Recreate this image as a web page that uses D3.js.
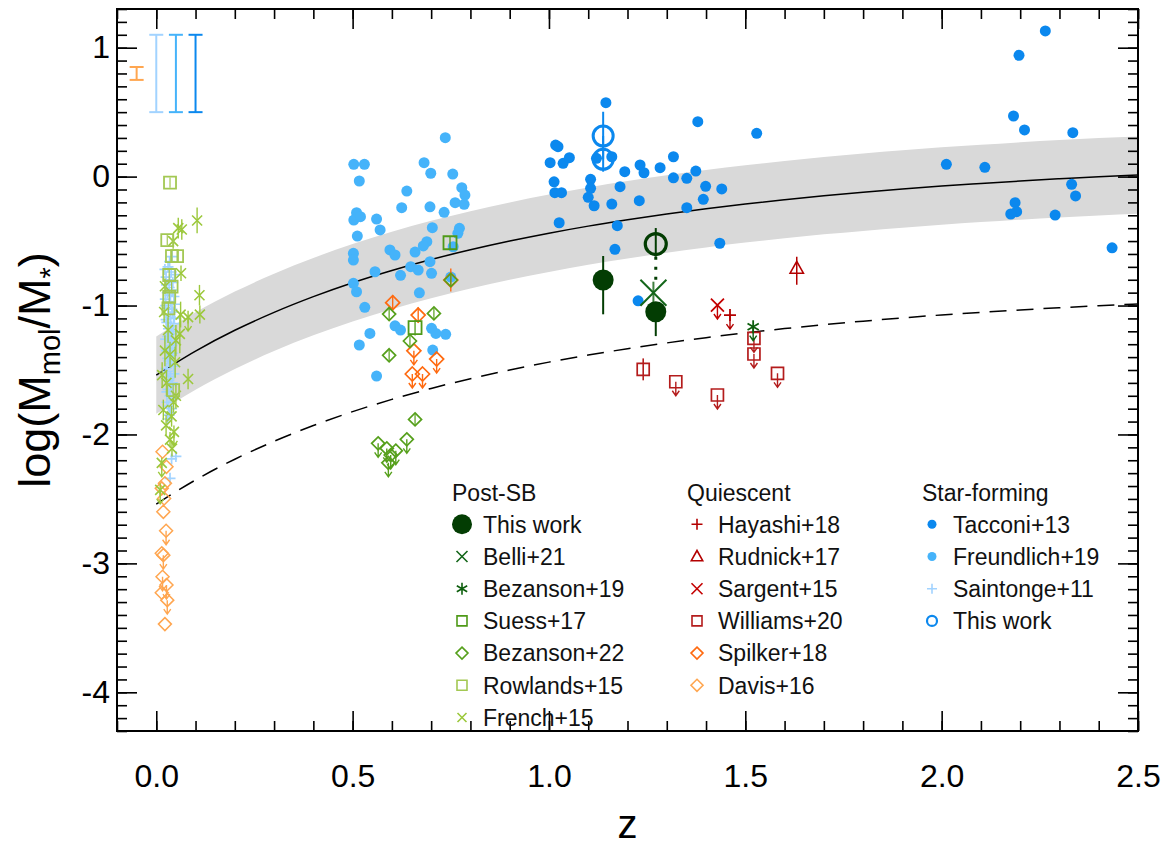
<!DOCTYPE html>
<html>
<head>
<meta charset="utf-8">
<script src="https://cdn.jsdelivr.net/npm/d3@7"></script>
<style>
  body { margin: 0; background: #fff; }
  svg { display: block; }
  text { font-family: "Liberation Sans", Arial, Helvetica, sans-serif; }
</style>
</head>
<body>
<svg id="chart" width="1175" height="849"></svg>
<script>
// ---- scaling relation (main-sequence gas fraction) sampled along z ----
const trendZ   = [0,0.1,0.2,0.3,0.4,0.5,0.6,0.7,0.8,0.9,1.0,1.1,1.2,1.3,1.4,1.5,1.6,1.7,1.8,1.9,2.0,2.1,2.2,2.3,2.4,2.5];
const trendLog = [-1.540,-1.353,-1.192,-1.053,-0.931,-0.823,-0.728,-0.643,-0.568,-0.500,-0.439,-0.384,-0.335,-0.290,-0.249,-0.212,-0.179,-0.148,-0.121,-0.096,-0.073,-0.053,-0.034,-0.017,-0.001,0.012];
const bandHalfWidth = 0.3;      // dex scatter of the relation
const limitLog = [-2.540,-2.353,-2.192,-2.053,-1.931,-1.823,-1.728,-1.643,-1.568,-1.500,-1.439,-1.384,-1.335,-1.290,-1.249,-1.212,-1.179,-1.148,-1.121,-1.096,-1.073,-1.053,-1.034,-1.017,-1.001,-0.988];

// ---- star-forming samples: [z, log(Mmol/M*)] ----
const tacconi13 = [
  [1.145,0.573],[1.017,0.245],[1.023,0.232],[1.003,0.108],[1.036,0.103],[1.052,0.147],[1.013,-0.040],
  [1.015,-0.125],[1.032,-0.125],[1.106,-0.021],[1.106,-0.091],[1.100,-0.161],[1.115,-0.226],[1.160,-0.213],
  [1.181,-0.078],[1.193,0.038],[1.232,0.090],[1.242,0.030],[1.283,0.069],[1.317,0.154],[1.317,-0.009],
  [1.351,-0.013],[1.374,0.043],[1.379,0.426],[1.399,-0.075],[1.393,-0.176],[1.440,-0.096],[1.351,-0.241],
  [1.230,-0.187],[1.026,-0.358],[1.174,-0.381],[1.168,-0.564],[1.435,-0.517],[1.529,0.336],[1.160,0.154],
  [1.121,0.142],[1.227,-0.963],
  [2.264,1.130],[2.197,0.941],[2.183,0.470],[2.211,0.362],[2.334,0.341],[2.012,0.095],[2.110,0.072],
  [2.331,-0.060],[2.341,-0.150],[2.187,-0.202],[2.191,-0.272],[2.176,-0.290],[2.289,-0.298],[2.434,-0.552]
];
const freundlich19 = [
  [0.736,0.302],[0.503,0.095],[0.530,0.095],[0.517,-0.034],[0.682,0.108],[0.699,0.026],[0.755,0.020],
  [0.778,-0.086],[0.786,-0.143],[0.761,-0.202],[0.784,-0.215],[0.638,-0.112],[0.625,-0.241],[0.697,-0.234],
  [0.733,-0.277],[0.510,-0.280],[0.503,-0.337],[0.520,-0.311],[0.561,-0.329],[0.570,-0.414],[0.512,-0.461],
  [0.703,-0.396],[0.772,-0.401],[0.768,-0.440],[0.689,-0.505],[0.680,-0.538],[0.595,-0.569],[0.608,-0.608],
  [0.659,-0.585],[0.502,-0.595],[0.502,-0.647],[0.648,-0.699],[0.667,-0.725],[0.697,-0.660],[0.701,-0.750],
  [0.557,-0.738],[0.622,-0.766],[0.756,-0.544],[0.502,-0.828],[0.510,-0.893],[0.670,-0.901],[0.531,-1.014],
  [0.608,-1.157],[0.622,-1.190],[0.544,-1.216],[0.517,-1.306],[0.701,-1.177],[0.712,-1.216],[0.737,-1.223],
  [0.704,-1.345],[0.561,-1.547],[0.750,-0.779]
];
const saintonge11 = [
  [0.030,-0.70],[0.038,-0.74],[0.025,-0.78],[0.042,-0.82],[0.033,-0.86],[0.028,-0.90],[0.045,-0.93],
  [0.036,-0.97],[0.024,-1.00],[0.040,-1.03],[0.031,-1.07],[0.046,-1.10],[0.027,-1.13],[0.037,-1.16],
  [0.043,-1.20],[0.029,-1.24],[0.034,-1.27],[0.040,-1.31],[0.026,-1.35],[0.038,-1.39],[0.032,-1.43],
  [0.044,-1.47],[0.028,-1.51],[0.036,-1.55],[0.041,-1.60],[0.030,-1.65],[0.035,-1.70],[0.027,-1.75],
  [0.039,-1.80],[0.033,-1.85],[0.039,-2.19],[0.035,-2.34],[0.050,-2.17],
  [0.022,-0.72],[0.047,-0.76],[0.034,-0.80],[0.026,-0.84],[0.041,-0.88],[0.035,-0.92],[0.023,-0.95],
  [0.048,-0.99],[0.030,-1.02],[0.042,-1.05],[0.036,-1.09],[0.025,-1.11],[0.044,-1.14],[0.031,-1.18],
  [0.039,-1.22],[0.024,-1.26],[0.047,-1.29],[0.033,-1.33],[0.042,-1.37],[0.029,-1.41],[0.037,-1.45],
  [0.025,-1.49],[0.045,-1.53],[0.032,-1.58],[0.038,-1.62],[0.027,-1.67],[0.043,-1.72],[0.031,-1.78],
  [0.036,-1.83],[0.029,-1.88],[0.034,-0.66],[0.040,-0.62]
];
// this work, star-forming: [z, value, lower, upper]
const thisWorkSF = [[1.138,0.315,0.134,0.503],[1.138,0.134,0.038,0.315]];

// ---- post-starburst samples ----
// this work: [z, value, lower, upper]
const thisWorkPSB = [[1.138,-0.802,-1.068,-0.616],[1.272,-1.048,-1.237,-0.978]];
const thisWorkPSBalt = [[1.272,-0.523,-0.621,-0.399]];
const belli21 = [[1.266,-0.901,-1.009,-0.815]];
const bezanson19 = [[1.520,-1.164]];                 // upper limit
const suess17 = [[0.659,-1.172,0.06],[0.748,-0.513,0.05]];   // [z, value, err]
// [z, value, err, upperLimit]
const bezanson22 = [
  [0.750,-0.802,0.05,0],[0.593,-1.066,0.05,0],[0.707,-1.061,0.05,0],[0.646,-1.275,0.05,0],
  [0.593,-1.386,0.05,0],[0.659,-1.883,0.05,0],[0.638,-2.038,0,1],[0.565,-2.069,0,1],
  [0.587,-2.108,0,1],[0.610,-2.126,0,1],[0.597,-2.160,0,1],[0.591,-2.220,0,1]
];
const rowlands15 = [
  [0.035,-0.047,0.04],[0.028,-0.492,0.04],[0.040,-0.616,0.05],[0.053,-0.616,0.05],[0.033,-0.763,0.04],
  [0.039,-0.854,0.05],[0.033,-0.932,0.04],[0.031,-1.022,0.05],[0.043,-1.656,0.05]
];
const french15 = [
  [0.104,-0.34,0.10,0],[0.056,-0.40,0.08,0],[0.065,-0.41,0.08,0],[0.043,-0.50,0.06,0],[0.063,-0.75,0.06,0],
  [0.110,-0.92,0.08,0],[0.111,-1.07,0.07,0],[0.081,-1.09,0.05,1],[0.062,-1.07,0.10,0],[0.060,-1.22,0.15,0],
  [0.022,-1.35,0.12,0],[0.035,-1.38,0.10,0],[0.048,-1.44,0.12,0],[0.081,-1.57,0.08,0],[0.022,-0.85,0.06,0],
  [0.026,-1.60,0.10,0],[0.018,-1.81,0.08,0],[0.039,-1.86,0.08,0],[0.035,-2.04,0.06,0],[0.014,-2.22,0.04,1],
  [0.030,-1.19,0.10,0],[0.050,-1.27,0.12,0],[0.015,-1.54,0.10,0],[0.050,-1.70,0.10,0],[0.025,-1.93,0.08,0],
  [0.045,-1.98,0.05,1],[0.010,-2.43,0.05,1],[0.040,-2.11,0.06,0],[0.020,-1.05,0.08,0],[0.044,-1.75,0.08,0]
];

// ---- quiescent samples ----
const hayashi18 = [[1.461,-1.074]];                 // upper limit
const rudnick17 = [[1.631,-0.711,-0.838,-0.622]];   // [z, value, lower, upper]
const sargent15 = [[1.429,-0.996]];                 // upper limit
// [z, value, err, upperLimit]
const williams20 = [
  [1.240,-1.495,0.085,0],[1.323,-1.591,0,1],[1.429,-1.694,0,1],
  [1.522,-1.254,0,1],[1.522,-1.376,0,1],[1.582,-1.526,0,1]
];
const spilker18 = [
  [0.750,-0.802,0.09,0],[0.602,-0.978,0.06,0],[0.667,-1.074,0.06,0],
  [0.656,-1.351,0,1],[0.714,-1.415,0,1],[0.652,-1.531,0,1],[0.678,-1.531,0,1]
];
const davis16 = [
  [0.016,-2.134,0],[0.026,-2.251,0],[0.022,-2.379,0],[0.014,-2.418,0],[0.020,-2.496,0],[0.018,-2.600,0],
  [0.025,-2.747,1],[0.014,-2.922,0],[0.018,-2.936,1],[0.016,-3.104,1],[0.026,-3.168,1],[0.014,-3.228,0],
  [0.028,-3.285,1],[0.022,-3.471,0]
];

// typical uncertainties shown in the upper-left corner: [z, centre, half-range, colour key]
const typicalErrors = [[-0.05,0.80,0.05,"davis"],[0.0,0.80,0.30,"saintonge"],[0.05,0.80,0.30,"freundlich"],[0.10,0.80,0.30,"tacconi"]];

const xTicksMajor = [0,0.5,1.0,1.5,2.0,2.5];
const yTicksMajor = [-4,-3,-2,-1,0,1];

// ---- styles ----
const C = {
  tacconi: "#0b88ee", freundlich: "#45b3fa", saintonge: "#a2d3ff", sfWork: "#0b88ee",
  psbWork: "#033d03", belli: "#14661a", bez19: "#0d5e0d", suess: "#4f9a18", bez22: "#56a01c",
  rowlands: "#a3c853", french: "#9cc83c",
  hayashi: "#b30000", rudnick: "#b30000", sargent: "#c40000", williams: "#b41c1c",
  spilker: "#ff6a10", davis: "#ffa650"
};

const W = 1175, H = 849;
const L = 117, R = 1138, T = 9, B = 731;
const x = d3.scaleLinear().domain([-0.1, 2.5]).range([L, R]);
const y = d3.scaleLinear().domain([-4.3, 1.3]).range([B, T]);

const svg = d3.select("#chart");
svg.append("rect").attr("width", W).attr("height", H).attr("fill", "#fff");

// ---- marker shapes centred on the origin ----
const shapes = {
  square: s => `M${-s},${-s}H${s}V${s}H${-s}Z`,
  diamond: s => `M0,${-s}L${s},0L0,${s}L${-s},0Z`,
  cross: s => `M${-s},${-s}L${s},${s}M${-s},${s}L${s},${-s}`,
  plus: s => `M${-s},0H${s}M0,${-s}V${s}`,
  asterisk: s => {
    const c = s * Math.cos(Math.PI / 6), d = s * Math.sin(Math.PI / 6);
    return `M0,${-s}V${s}M${-c},${-d}L${c},${d}M${-c},${d}L${c},${-d}`;
  },
  triangle: s => `M0,${-s}L${s * 0.95},${s * 0.7}L${-s * 0.95},${s * 0.7}Z`
};

function marker(g, type, px, py, s, color, opt = {}) {
  const sw = opt.sw || 1.6;
  if (type === "dot") {
    g.append("circle").attr("cx", px).attr("cy", py).attr("r", s).attr("fill", color);
  } else if (type === "ring") {
    g.append("circle").attr("cx", px).attr("cy", py).attr("r", s)
      .attr("fill", "none").attr("stroke", color).attr("stroke-width", sw);
  } else {
    g.append("path").attr("transform", `translate(${px},${py})`).attr("d", shapes[type](s))
      .attr("fill", "none").attr("stroke", color).attr("stroke-width", sw)
      .attr("stroke-linejoin", "miter");
  }
}
function vbar(g, px, y0, y1, color, sw = 1.6) {
  g.append("line").attr("x1", px).attr("x2", px).attr("y1", y0).attr("y2", y1)
    .attr("stroke", color).attr("stroke-width", sw);
}
function arrowDown(g, px, py, color, len = 14, sw = 1.4) {
  g.append("path").attr("d", `M${px},${py}V${py + len}M${px - 3.5},${py + len - 5}L${px},${py + len}L${px + 3.5},${py + len - 5}`)
    .attr("fill", "none").attr("stroke", color).attr("stroke-width", sw);
}

// ---- relation band and lines ----
const curve = trendZ.map((z, i) => ({ z, m: trendLog[i], lim: limitLog[i] }));
const plot = svg.append("g");
plot.append("path").datum(curve)
  .attr("d", d3.area().x(d => x(d.z)).y0(d => y(d.m - bandHalfWidth)).y1(d => y(d.m + bandHalfWidth)).curve(d3.curveMonotoneX))
  .attr("fill", "#d9d9d9");
plot.append("path").datum(curve)
  .attr("d", d3.line().x(d => x(d.z)).y(d => y(d.m)).curve(d3.curveMonotoneX))
  .attr("fill", "none").attr("stroke", "#000").attr("stroke-width", 1.5);
plot.append("path").datum(curve)
  .attr("d", d3.line().x(d => x(d.z)).y(d => y(d.lim)).curve(d3.curveMonotoneX))
  .attr("fill", "none").attr("stroke", "#000").attr("stroke-width", 1.5).attr("stroke-dasharray", "17,10");

// ---- data points ----
const pts = svg.append("g");

saintonge11.forEach(([z, v]) => marker(pts, "plus", x(z), y(v), 5.5, C.saintonge, { sw: 1.7 }));
freundlich19.forEach(([z, v]) => marker(pts, "dot", x(z), y(v), 5.5, C.freundlich));
tacconi13.forEach(([z, v]) => marker(pts, "dot", x(z), y(v), 5.5, C.tacconi));

davis16.forEach(([z, v, ul]) => {
  if (ul) arrowDown(pts, x(z), y(v), C.davis);
  marker(pts, "diamond", x(z), y(v), 6.5, C.davis, { sw: 1.5 });
});
spilker18.forEach(([z, v, e, ul]) => {
  if (e) vbar(pts, x(z), y(v - e), y(v + e), C.spilker, 1.4);
  if (ul) arrowDown(pts, x(z), y(v), C.spilker);
  marker(pts, "diamond", x(z), y(v), 7, C.spilker, { sw: 1.7 });
});
williams20.forEach(([z, v, e, ul]) => {
  if (e) vbar(pts, x(z), y(v - e), y(v + e), C.williams, 1.6);
  if (ul) arrowDown(pts, x(z), y(v), C.williams);
  marker(pts, "square", x(z), y(v), 6, C.williams, { sw: 1.7 });
});
sargent15.forEach(([z, v]) => {
  arrowDown(pts, x(z), y(v), C.sargent);
  marker(pts, "cross", x(z), y(v), 6.5, C.sargent, { sw: 1.8 });
});
hayashi18.forEach(([z, v]) => {
  arrowDown(pts, x(z), y(v), C.hayashi);
  marker(pts, "plus", x(z), y(v), 6, C.hayashi, { sw: 1.8 });
});
rudnick17.forEach(([z, v, lo, hi]) => {
  vbar(pts, x(z), y(lo), y(hi), C.rudnick, 1.5);
  marker(pts, "triangle", x(z), y(v), 7, C.rudnick, { sw: 1.6 });
});

french15.forEach(([z, v, e, ul]) => {
  vbar(pts, x(z), y(v - e), y(v + e), C.french, 1.4);
  if (ul) arrowDown(pts, x(z), y(v), C.french);
  marker(pts, "cross", x(z), y(v), 5, C.french, { sw: 1.6 });
});
rowlands15.forEach(([z, v, e]) => {
  vbar(pts, x(z), y(v - e), y(v + e), C.rowlands, 1.2);
  marker(pts, "square", x(z), y(v), 6, C.rowlands, { sw: 1.8 });
});
bezanson22.forEach(([z, v, e, ul]) => {
  if (e) vbar(pts, x(z), y(v - e), y(v + e), C.bez22, 1.2);
  if (ul) arrowDown(pts, x(z), y(v), C.bez22);
  marker(pts, "diamond", x(z), y(v), 6.5, C.bez22, { sw: 1.7 });
});
suess17.forEach(([z, v, e]) => {
  vbar(pts, x(z), y(v - e), y(v + e), C.suess, 1.3);
  marker(pts, "square", x(z), y(v), 6.5, C.suess, { sw: 1.8 });
});
bezanson19.forEach(([z, v]) => {
  arrowDown(pts, x(z), y(v), C.bez19);
  marker(pts, "asterisk", x(z), y(v), 6.5, C.bez19, { sw: 1.8 });
});

// this work (star-forming)
thisWorkSF.forEach(([z, v, lo, hi]) => vbar(pts, x(z), y(lo), y(hi), C.sfWork, 2));
thisWorkSF.forEach(([z, v]) => marker(pts, "ring", x(z), y(v), 10, C.sfWork, { sw: 3 }));

// this work (post-starburst): alternative estimate joined to the measured value
thisWorkPSBalt.forEach(([z, v, lo, hi]) => {
  vbar(pts, x(z), y(lo), y(hi), C.psbWork, 2);
  pts.append("line").attr("x1", x(z)).attr("x2", x(z)).attr("y1", y(lo)).attr("y2", y(belli21[0][3]))
    .attr("stroke", C.psbWork).attr("stroke-width", 3).attr("stroke-dasharray", "3,7");
  marker(pts, "ring", x(z), y(v), 10.5, C.psbWork, { sw: 3.2 });
});
belli21.forEach(([z, v, lo, hi]) => {
  vbar(pts, x(z), y(lo), y(hi), "#3f7f3f", 2);
  marker(pts, "cross", x(z), y(v), 13, C.belli, { sw: 2 });
});
thisWorkPSB.forEach(([z, v, lo, hi]) => {
  vbar(pts, x(z), y(lo), y(hi), C.psbWork, 2);
  marker(pts, "dot", x(z), y(v), 10.5, C.psbWork);
});

// typical uncertainties
const ekey = { davis: C.davis, saintonge: C.saintonge, freundlich: C.freundlich, tacconi: C.tacconi };
typicalErrors.forEach(([z, c, h, k]) => {
  const px = x(z), col = ekey[k];
  vbar(pts, px, y(c - h), y(c + h), col, 2);
  [c - h, c + h].forEach(v => pts.append("line").attr("x1", px - 7).attr("x2", px + 7)
    .attr("y1", y(v)).attr("y2", y(v)).attr("stroke", col).attr("stroke-width", 2));
});

// ---- axes: inward ticks on all four sides ----
const xMinor = d3.range(-1, 26).map(d => d / 10);
const yMinor = d3.range(-43, 14).map(d => d / 10);
const fmtY = d => String(d);
const ax = svg.append("g").attr("class", "axes");
function styleAxis(g) {
  g.select(".domain").remove();
  g.selectAll(".tick line").attr("stroke", "#000").attr("stroke-width", 1.6);
  g.selectAll("text").attr("fill", "#000").attr("font-size", 32).style("font-family", '"Liberation Sans", Arial, sans-serif');
}
ax.append("g").attr("transform", `translate(0,${B})`)
  .call(d3.axisBottom(x).tickValues(xTicksMajor).tickSize(-20).tickPadding(33).tickFormat(d3.format(".1f"))).call(styleAxis);
ax.append("g").attr("transform", `translate(0,${B})`)
  .call(d3.axisBottom(x).tickValues(xMinor).tickSize(-10).tickFormat("")).call(styleAxis);
ax.append("g").attr("transform", `translate(0,${T})`)
  .call(d3.axisTop(x).tickValues(xTicksMajor).tickSize(-20).tickFormat("")).call(styleAxis);
ax.append("g").attr("transform", `translate(0,${T})`)
  .call(d3.axisTop(x).tickValues(xMinor).tickSize(-10).tickFormat("")).call(styleAxis);
ax.append("g").attr("transform", `translate(${L},0)`)
  .call(d3.axisLeft(y).tickValues(yTicksMajor).tickSize(-20).tickPadding(7).tickFormat(fmtY)).call(styleAxis);
ax.append("g").attr("transform", `translate(${L},0)`)
  .call(d3.axisLeft(y).tickValues(yMinor).tickSize(-10).tickFormat("")).call(styleAxis);
ax.append("g").attr("transform", `translate(${R},0)`)
  .call(d3.axisRight(y).tickValues(yTicksMajor).tickSize(-20).tickFormat("")).call(styleAxis);
ax.append("g").attr("transform", `translate(${R},0)`)
  .call(d3.axisRight(y).tickValues(yMinor).tickSize(-10).tickFormat("")).call(styleAxis);
svg.append("rect").attr("x", L).attr("y", T).attr("width", R - L).attr("height", B - T)
  .attr("fill", "none").attr("stroke", "#000").attr("stroke-width", 2);

// axis titles
svg.append("text").attr("x", (L + R) / 2).attr("y", 838).attr("text-anchor", "middle")
  .attr("font-size", 40).text("z");
const yl = svg.append("text").attr("transform", `translate(50,${(T + B) / 2}) rotate(-90)`)
  .attr("text-anchor", "middle").attr("font-size", 45);
yl.append("tspan").text("log(M");
yl.append("tspan").attr("font-size", 29).attr("dy", 10).text("mol");
yl.append("tspan").attr("dy", -10).text("/M");
yl.append("tspan").attr("font-size", 29).attr("dy", 10).text("*");
yl.append("tspan").attr("dy", -10).text(")");

// ---- legend ----
const legendCols = [
  { x: 452, title: "Post-SB", items: [
    ["This work", "dot", C.psbWork, 10], ["Belli+21", "cross", C.belli, 5.5], ["Bezanson+19", "asterisk", C.bez19, 6],
    ["Suess+17", "square", C.suess, 5], ["Bezanson+22", "diamond", C.bez22, 6], ["Rowlands+15", "square", C.rowlands, 5],
    ["French+15", "cross", C.french, 4.5] ] },
  { x: 687, title: "Quiescent", items: [
    ["Hayashi+18", "plus", C.hayashi, 5.5], ["Rudnick+17", "triangle", C.rudnick, 6], ["Sargent+15", "cross", C.sargent, 5.5],
    ["Williams+20", "square", C.williams, 5], ["Spilker+18", "diamond", C.spilker, 6], ["Davis+16", "diamond", C.davis, 6] ] },
  { x: 922, title: "Star-forming", items: [
    ["Tacconi+13", "dot", C.tacconi, 4.5], ["Freundlich+19", "dot", C.freundlich, 4.5], ["Saintonge+11", "plus", C.saintonge, 5],
    ["This work", "ring", C.sfWork, 5] ] }
];
const lg = svg.append("g").attr("font-size", 23).attr("fill", "#111");
legendCols.forEach(col => {
  lg.append("text").attr("x", col.x).attr("y", 501).text(col.title);
  col.items.forEach(([label, type, color, s], i) => {
    const cy = 524.3 + i * 32.2;
    marker(lg, type, col.x + 10, cy, s, color, { sw: type === "ring" ? 2.2 : 1.6 });
    lg.append("text").attr("x", col.x + 31).attr("y", cy + 8.3).text(label);
  });
});
</script>
</body>
</html>
